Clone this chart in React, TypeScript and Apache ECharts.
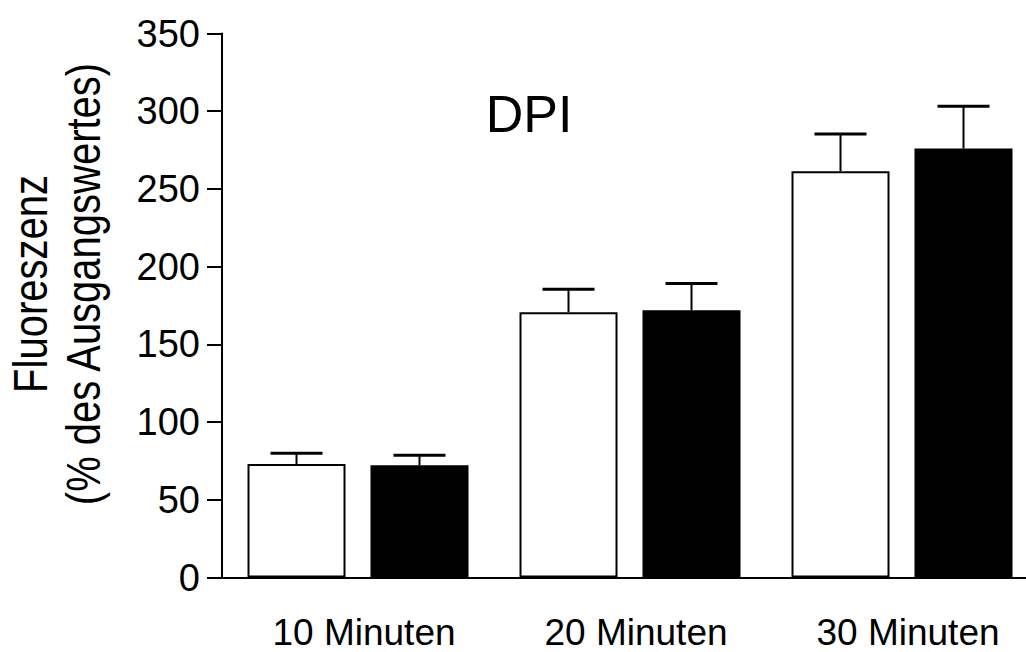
import React, { useEffect, useRef } from "react";
import * as echarts from "echarts";

const categories = ["10 Minuten", "20 Minuten", "30 Minuten"];
const whiteMeans = [73.0, 170.7, 261.4];
const whiteSem = [6.9, 14.8, 24.0];
const blackMeans = [72.2, 172.0, 276.0];
const blackSem = [6.4, 17.2, 27.2];
const yTicks = { min: 0, max: 350, interval: 50 };
const yLabelLines = ["Fluoreszenz", "(% des Ausgangswertes)"];
const titleText = "DPI";

const FONT = "'Liberation Sans', Arial, sans-serif";

function errorSeries(means: number[], sem: number[], sign: number, name: string) {
  return {
    type: "custom",
    name,
    z: 5,
    data: means.map((m, i) => [i, m, m + sem[i]]),
    renderItem: (params: any, api: any) => {
      const band = api.size([1, 0])[0];
      const base = api.coord([api.value(0), api.value(1)]);
      const top = api.coord([api.value(0), api.value(2)]);
      const x = base[0] + sign * band * (61.5 / 272);
      const capHalf = 26;
      return {
        type: "group",
        children: [
          {
            type: "line",
            shape: { x1: x, y1: base[1], x2: x, y2: top[1] },
            style: { stroke: "#000", lineWidth: 2 },
          },
          {
            type: "line",
            shape: { x1: x - capHalf, y1: top[1], x2: x + capHalf, y2: top[1] },
            style: { stroke: "#000", lineWidth: 3 },
          },
        ],
      };
    },
  };
}

export default function App() {
  const ref = useRef<HTMLDivElement>(null);
  useEffect(() => {
    if (!ref.current) return;
    const chart = echarts.init(ref.current, null, { renderer: "svg" });
    chart.setOption({
      animation: false,
      backgroundColor: "#fff",
      textStyle: { fontFamily: FONT },
      grid: {
        left: 222,
        top: 33.5,
        width: 816,
        height: 544,
        containLabel: false,
        outerBoundsMode: "none",
      },
      xAxis: {
        type: "category",
        data: categories,
        axisLine: { lineStyle: { color: "#000", width: 2 } },
        axisTick: { show: false },
        axisLabel: {
          color: "#000",
          fontSize: 37,
          fontFamily: FONT,
          margin: 55,
          verticalAlign: "middle",
          lineHeight: 28,
          padding: [0, 0, 0, 12],
        },
      },
      yAxis: {
        type: "value",
        min: yTicks.min,
        max: yTicks.max,
        interval: yTicks.interval,
        axisLine: { show: true, lineStyle: { color: "#000", width: 2 } },
        axisTick: { show: true, length: 15, lineStyle: { color: "#000", width: 2 } },
        splitLine: { show: false },
        axisLabel: { color: "#000", fontSize: 38, fontFamily: FONT, margin: 22 },
      },
      series: [
        {
          type: "bar",
          name: "white",
          data: whiteMeans,
          barWidth: 98,
          barGap: "25.5%",
          itemStyle: { color: "#fff", borderColor: "#000", borderWidth: 2 },
        },
        {
          type: "bar",
          name: "black",
          data: blackMeans,
          barWidth: 98,
          barGap: "25.5%",
          itemStyle: { color: "#000", borderColor: "#000", borderWidth: 2 },
        },
        errorSeries(whiteMeans, whiteSem, -1, "whiteErr"),
        errorSeries(blackMeans, blackSem, 1, "blackErr"),
      ],
      graphic: [
        {
          type: "text",
          x: 529,
          y: 114,
          style: {
            text: titleText,
            font: `52px ${FONT}`,
            fill: "#000",
            textAlign: "center",
            textVerticalAlign: "middle",
          },
        },
        {
          type: "text",
          x: 57,
          y: 284,
          rotation: Math.PI / 2,
          scaleY: 1.18,
          style: {
            text: yLabelLines.join("\n"),
            font: `40px ${FONT}`,
            lineHeight: 45,
            fill: "#000",
            textAlign: "center",
            textVerticalAlign: "middle",
          },
        },
      ],
    });
    return () => chart.dispose();
  }, []);
  return (
    <div
      ref={ref}
      style={{ position: "fixed", left: 0, top: 0, width: 1026, height: 652, background: "#fff" }}
    />
  );
}
